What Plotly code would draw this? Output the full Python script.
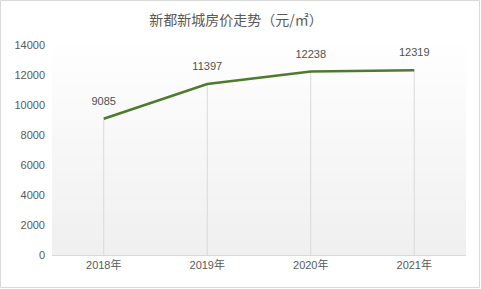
import plotly.graph_objects as go

years = ["2018年", "2019年", "2020年", "2021年"]
prices = [9085, 11397, 12238, 12319]
y_ticks = [0, 2000, 4000, 6000, 8000, 10000, 12000, 14000]
title_text = "新都新城房价走势（元/㎡）"

W, H = 481, 289
ml, mr, mt, mb = 52, 15, 45, 34
pw, ph = W - ml - mr, H - mt - mb

fig = go.Figure()
fig.add_trace(go.Scatter(
    x=years, y=prices, mode="lines+markers+text",
    text=[str(v) for v in prices], textposition="top center",
    textfont=dict(size=11, color="#505050", family="Liberation Sans, Noto Sans CJK SC"),
    line=dict(color="#4e7b2b", width=2.5),
    marker=dict(size=16, color="rgba(0,0,0,0)"),
    error_y=dict(type="data", symmetric=False, array=[0]*len(prices), arrayminus=prices,
                 thickness=1, width=0, color="#d9d9d9"),
    cliponaxis=False, hoverinfo="skip",
))

shapes = []
n = 40
for i in range(n):
    t = i / n
    c = int(255 - 15 * (1 - t))
    shapes.append(dict(type="rect", xref="x domain", yref="y domain",
                       x0=0, x1=1, y0=t, y1=t + 1.0 / n + 0.002,
                       fillcolor=f"rgb({c},{c},{c})", line=dict(width=0), layer="below"))
shapes.append(dict(type="rect", xref="paper", yref="paper",
                   x0=-(ml - 0.5) / pw, x1=1 + (mr - 1.5) / pw,
                   y0=-(mb - 1.5) / ph, y1=1 + (mt - 0.5) / ph,
                   line=dict(color="#d9d9d9", width=1), fillcolor="rgba(0,0,0,0)"))

fig.update_layout(
    width=W, height=H, margin=dict(l=ml, r=mr, t=mt, b=mb),
    paper_bgcolor="white", plot_bgcolor="white",
    showlegend=False, shapes=shapes,
    title=dict(text=title_text, x=236 / W, xanchor="center", y=1 - 20 / H, yanchor="middle",
               font=dict(size=14, color="#595959", family="Noto Sans CJK SC")),
    xaxis=dict(range=[-0.5, 3.5], showgrid=False, showline=True, linecolor="#d9d9d9",
               linewidth=1, ticks="", zeroline=False,
               tickfont=dict(size=11, color="#595959", family="Liberation Sans, Noto Sans CJK SC")),
    yaxis=dict(range=[0, 14000], tickvals=y_ticks, ticktext=[str(v) for v in y_ticks],
               showgrid=False, showline=False,
               zeroline=False, ticks="", ticklabelstandoff=6,
               tickfont=dict(size=11, color="#595959", family="Liberation Sans, Noto Sans CJK SC")),
)
fig.write_html("out.html")
